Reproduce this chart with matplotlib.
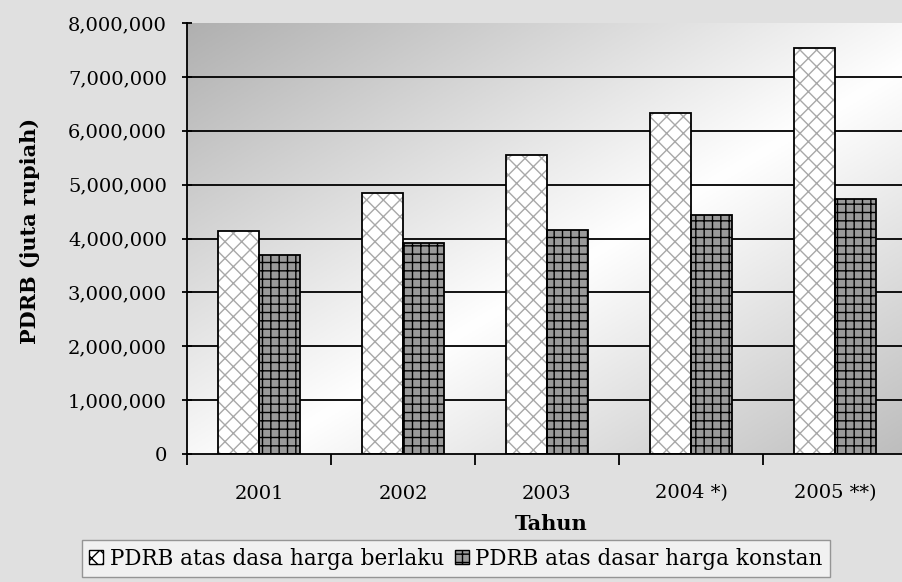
import numpy as np
import matplotlib
matplotlib.use("Agg")
import matplotlib.pyplot as plt
from matplotlib.patches import Patch

years = ["2001", "2002", "2003", "2004 *)", "2005 **)"]
berlaku = [4130000, 4850000, 5550000, 6330000, 7530000]
konstan = [3700000, 3920000, 4160000, 4430000, 4730000]
yticks = [0, 1000000, 2000000, 3000000, 4000000, 5000000, 6000000, 7000000, 8000000]
ytick_labels = ["0", "1,000,000", "2,000,000", "3,000,000", "4,000,000",
                "5,000,000", "6,000,000", "7,000,000", "8,000,000"]
label_b = "PDRB atas dasa harga berlaku"
label_k = "PDRB atas dasar harga konstan"

plt.rcParams['font.family'] = ['DejaVu Serif']
plt.rcParams['hatch.linewidth'] = 1.0

W, H = 903, 582
fig = plt.figure(figsize=(W / 100, H / 100), dpi=100)
fig.patch.set_facecolor('#e0e0e0')

left, right, top, bottom = 187, 907, 23, 454
ax = fig.add_axes([left / W, 1 - bottom / H, (right - left) / W, (bottom - top) / H])

# gradient background of plot area
n = 200
xx, yy = np.meshgrid(np.linspace(0, 1, n), np.linspace(1, 0, n))
t = (xx + (1 - yy)) / 2
val = np.where(t < 0.55, 0.69 + (1.0 - 0.69) * (t / 0.55),
               1.0 - (1.0 - 0.74) * ((t - 0.55) / 0.45))
img = np.dstack([val, val, val])
ax.imshow(img, extent=[0, 1, 0, 1], transform=ax.transAxes, aspect='auto', zorder=0)

x = np.arange(len(years))
w = 0.285
for yv in yticks[1:-1]:
    ax.axhline(yv, color='black', lw=1.3, zorder=1)

ax.bar(x - w / 2, berlaku, width=w, facecolor='white', edgecolor='#a8a8a8',
       hatch='xx', lw=0, zorder=2)
ax.bar(x - w / 2, berlaku, width=w, facecolor='none', edgecolor='black', lw=1.3, zorder=3)
ax.bar(x + w / 2, konstan, width=w, facecolor='#9a9a9a', edgecolor='black',
       hatch='++', lw=0, zorder=2)
ax.bar(x + w / 2, konstan, width=w, facecolor='none', edgecolor='black', lw=1.3, zorder=3)

ax.set_xlim(-0.5, 4.5)
ax.set_ylim(0, 8000000)
ax.set_yticks(yticks)
ax.set_yticklabels(ytick_labels, fontsize=14)
ax.set_xticks(x)
ax.set_xticklabels(years, fontsize=14)
ax.set_xticks(np.arange(-0.5, 5.0, 1.0), minor=True)
ax.tick_params(axis='x', which='major', length=0, pad=22)
ax.tick_params(axis='x', which='minor', length=8, width=1.3, direction='out')
ax.tick_params(axis='y', length=7, width=1.3, direction='inout', pad=11)
for s in ['top', 'right']:
    ax.spines[s].set_visible(False)
for s in ['left', 'bottom']:
    ax.spines[s].set_linewidth(1.3)

fig.text(30 / W, 1 - 231 / H, "PDRB (juta rupiah)", fontsize=15, fontweight='bold',
         rotation=90, ha='center', va='center')
fig.text(551 / W, 1 - 524 / H, "Tahun", fontsize=15, fontweight='bold',
         ha='center', va='center')

handles = [Patch(facecolor='white', edgecolor='black', hatch='xx', label=label_b),
           Patch(facecolor='#9a9a9a', edgecolor='black', hatch='++', label=label_k)]
leg = fig.legend(handles=handles, loc='upper center', bbox_to_anchor=(456 / W, 1 - 540 / H),
                 ncol=2, fontsize=15.5, frameon=True, fancybox=False,
                 handlelength=0.65, handleheight=0.65, handletextpad=0.3,
                 columnspacing=0.5, borderpad=0.35, borderaxespad=0)
leg.get_frame().set_edgecolor('#808080')
leg.get_frame().set_facecolor('#f6f6f6')
leg.get_frame().set_linewidth(1.0)

fig.savefig("out.png", dpi=100, facecolor=fig.get_facecolor())
